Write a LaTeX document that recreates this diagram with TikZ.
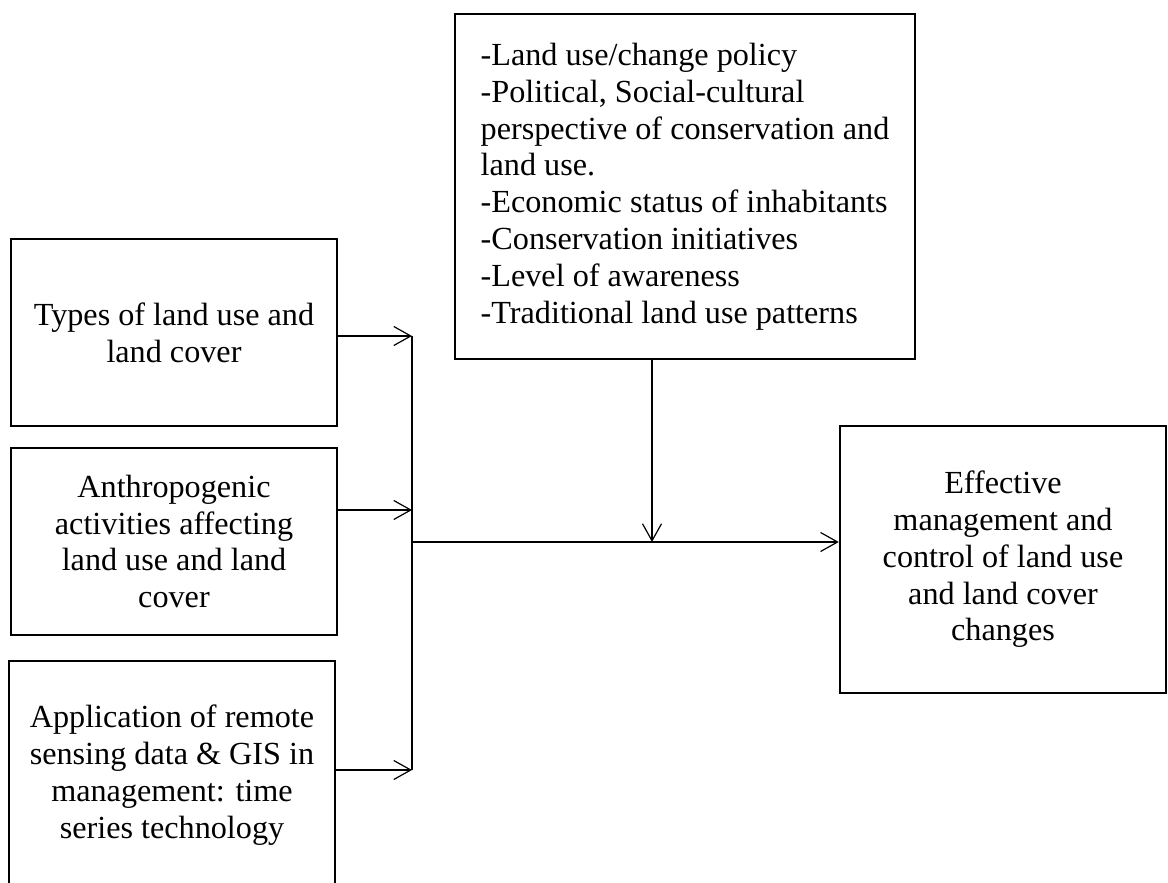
\documentclass[tikz,border=0pt]{standalone}
\usepackage{fontspec}
\setmainfont{Liberation Serif}
\usetikzlibrary{arrows.meta}

\begin{document}
\begin{tikzpicture}[x=0.5pt, y=-0.5pt,
    box/.style={draw, line width=1.2pt, align=center, inner sep=4pt,
        font=\fontsize{16.1}{18.4}\selectfont},
    link/.style={line width=0.6pt, -{Straight Barb[length=8.5pt,width=9.5pt]}}]
        \useasboundingbox (0,0) rectangle (1168,883);

        % Input boxes on the left
        \node[box, minimum width=163pt, minimum height=93.5pt] (types) at (174,332.5)
            {Types of land use and\\land cover};
        \node[box, minimum width=163pt, minimum height=93.5pt] (anthro) at (174,541.5)
            {Anthropogenic\\activities affecting\\land use and land\\cover};
        \node[box, minimum width=163pt, minimum height=114pt] (remote) at (172,775)
            {Application of remote\\sensing data \& GIS in\\management: time\\series technology};

        % Moderating factors
        \node[box, align=left, minimum width=230pt, minimum height=172.5pt] (policy) at (685,186.5)
            {-Land use/change policy\\-Political, Social-cultural\\perspective of conservation and\\land use.\\-Economic status of inhabitants\\-Conservation initiatives\\-Level of awareness\\-Traditional land use patterns};

        % Outcome
        \node[box, minimum width=163pt, minimum height=133.5pt] (outcome) at (1003,559.5)
            {Effective\\management and\\control of land use\\and land cover\\changes};

        % Bus line
        \coordinate (in1) at (412,336);
        \coordinate (in2) at (412,510);
        \coordinate (in3) at (412,770);
        \coordinate (join) at (412,542);
        \coordinate (meet) at (652,542);
        \draw[line width=0.6pt] (in1) -- (in3);

        \draw[link] (types.east |- in1) -- (in1);
        \draw[link] (anthro.east |- in2) -- (in2);
        \draw[link] (remote.east |- in3) -- (in3);
        \draw[link] (join) -- (join -| outcome.west);
        \draw[link] (meet |- policy.south) -- (meet);
    \end{tikzpicture}
\end{document}
